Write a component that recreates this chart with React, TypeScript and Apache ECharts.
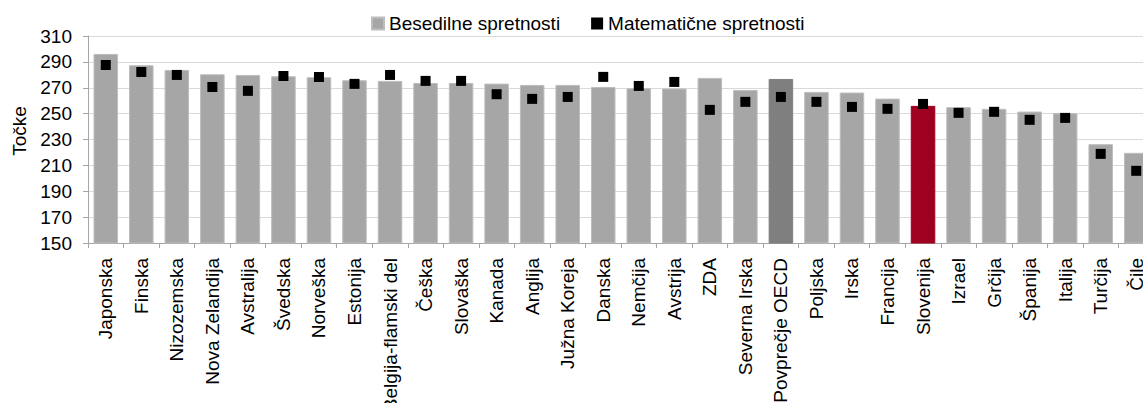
import React, { useEffect, useRef } from "react";
import * as echarts from "echarts";

const categories = [
  "Japonska", "Finska", "Nizozemska", "Nova Zelandija", "Avstralija", "Švedska",
  "Norveška", "Estonija", "Belgija-flamski del", "Češka", "Slovaška", "Kanada",
  "Anglija", "Južna Koreja", "Danska", "Nemčija", "Avstrija", "ZDA", "Severna Irska",
  "Povprečje OECD", "Poljska", "Irska", "Francija", "Slovenija", "Izrael", "Grčija",
  "Španija", "Italija", "Turčija", "Čile",
];

const besedilne = [
  296.1, 287.4, 283.8, 280.4, 279.9, 278.9, 278.1, 275.8, 275.3, 273.7, 273.7, 273.2,
  272.2, 272.2, 270.6, 269.6, 269.4, 277.6, 268.3, 276.8, 266.8, 266.3, 261.6, 256.0,
  255.0, 253.7, 251.6, 250.3, 226.4, 219.7,
];

const matematicne = [
  287.6, 282.2, 279.9, 270.6, 267.6, 279.1, 278.3, 273.0, 279.9, 275.3, 275.3, 265.0,
  261.4, 262.9, 278.4, 271.4, 274.5, 252.9, 259.1, 262.9, 259.1, 255.2, 253.7, 257.5,
  250.6, 251.4, 245.2, 246.7, 218.9, 205.8,
];

const yTicks = { min: 150, max: 310, interval: 20 };

const BAR_COLOR = "#A6A6A6";
const OECD_COLOR = "#7F7F7F";
const SLO_COLOR = "#9E001F";
const FONT = "Liberation Sans, Arial, sans-serif";
const FS = 19;

export default function App() {
  const ref = useRef<HTMLDivElement>(null);

  useEffect(() => {
    if (!ref.current) return;
    const chart = echarts.init(ref.current, undefined, { renderer: "svg" });
    const barData = besedilne.map((v, i) => {
      const name = categories[i];
      let color = BAR_COLOR;
      if (name === "Povprečje OECD") color = OECD_COLOR;
      if (name === "Slovenija") color = SLO_COLOR;
      return { value: v, itemStyle: { color, borderColor: color === BAR_COLOR ? "#BDBDBD" : color } };
    });
    chart.setOption({
      animation: false,
      textStyle: { fontFamily: FONT },
      legend: {
        left: 371,
        top: 14,
        padding: 0,
        itemWidth: 12,
        itemHeight: 12,
        itemGap: 31,
        textStyle: { fontSize: FS, color: "#000", fontFamily: FONT },
        data: [
          { name: "Besedilne spretnosti", icon: "rect" },
          { name: "Matematične spretnosti", icon: "rect" },
        ],
      },
      grid: {
        left: 88,
        top: 36,
        right: -11,
        bottom: 160,
        containLabel: false,
        outerBoundsMode: "none",
      },
      graphic: [
        {
          type: "text",
          x: 19,
          y: 131,
          rotation: Math.PI / 2,
          style: {
            text: "Točke",
            fontSize: FS,
            fontFamily: FONT,
            fill: "#000",
            textAlign: "center",
            textVerticalAlign: "middle",
          },
        },
      ],
      xAxis: {
        type: "category",
        data: categories,
        axisLine: { lineStyle: { color: "#A6A6A6" } },
        axisTick: { show: true, length: 5, lineStyle: { color: "#A6A6A6" } },
        axisLabel: {
          rotate: 90,
          interval: 0,
          margin: 15,
          fontSize: FS,
          color: "#000",
          fontFamily: FONT,
        },
      },
      yAxis: {
        type: "value",
        min: yTicks.min,
        max: yTicks.max,
        interval: yTicks.interval,
        axisLine: { show: true, lineStyle: { color: "#A6A6A6" } },
        axisTick: { show: true, length: 5, lineStyle: { color: "#A6A6A6" } },
        axisLabel: { fontSize: FS, color: "#000", margin: 16, fontFamily: FONT },
        splitLine: { lineStyle: { color: "#D9D9D9", width: 1 } },
      },
      series: [
        {
          name: "Besedilne spretnosti",
          type: "bar",
          data: barData,
          barWidth: "69%",
          itemStyle: { color: BAR_COLOR, borderColor: "#BDBDBD", borderWidth: 1 },
        },
        {
          name: "Matematične spretnosti",
          type: "scatter",
          data: matematicne,
          symbol: "rect",
          symbolSize: 10,
          itemStyle: { color: "#000", opacity: 1 },
          z: 5,
        },
      ],
    });
    return () => chart.dispose();
  }, []);

  return (
    <div
      ref={ref}
      style={{ position: "fixed", left: 0, top: 0, width: 1143, height: 403, overflow: "hidden", background: "#fff" }}
    />
  );
}
